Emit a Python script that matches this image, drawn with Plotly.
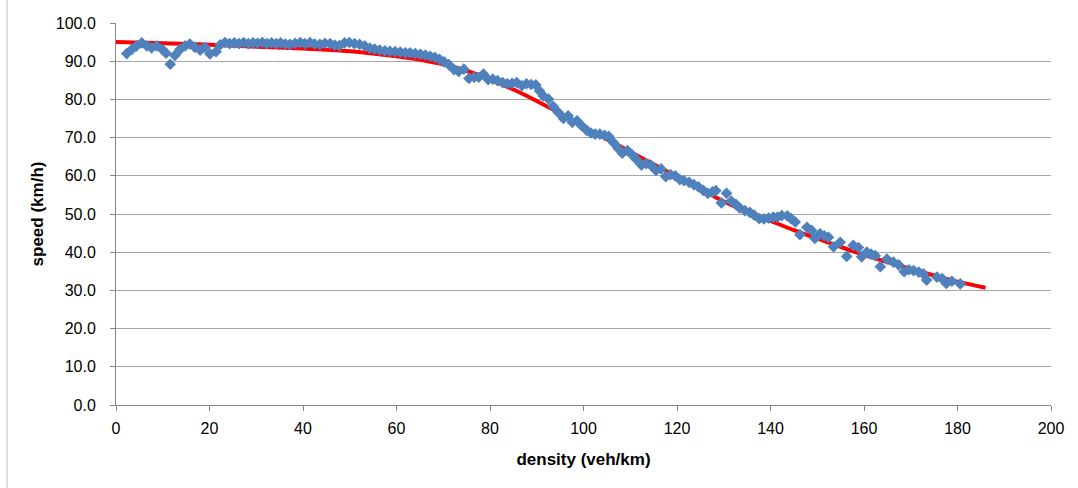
import plotly.graph_objects as go

density = [2.3, 3.4, 4.4, 5.5, 6.6, 7.6, 8.7, 9.8, 10.7, 11.6, 12.6, 13.7, 14.8, 15.8, 16.9, 18.0, 19.0, 20.1, 21.4, 22.3,
           23.3, 24.3, 25.3, 26.3, 27.3, 28.3, 29.3, 30.3, 31.3, 32.3, 33.3, 34.3, 35.2, 36.2, 37.2, 38.3, 39.4, 40.4, 41.5, 42.5,
           43.6, 44.7, 45.8, 46.8, 47.8, 48.9, 49.9, 51.0, 52.1, 53.2, 54.3, 55.3, 56.4, 57.5, 58.6, 59.7, 60.8, 61.9, 62.9, 64.0,
           65.1, 66.2, 67.2, 68.2, 69.2, 70.2, 71.2, 72.3, 73.3, 74.4, 75.5, 76.6, 77.6, 78.6, 79.6, 80.6, 81.6, 82.7, 83.7, 84.7,
           85.7, 86.8, 87.8, 88.8, 89.8, 90.6, 91.4, 92.5, 93.5, 94.6, 95.7, 96.7, 97.6, 98.6, 99.6, 100.7, 101.6, 102.5, 103.5, 104.5,
           105.4, 106.4, 107.4, 108.3, 109.4, 110.4, 111.3, 112.4, 113.4, 114.4, 115.5, 116.6, 117.6, 118.6, 119.6, 120.6, 121.5, 122.6, 123.6, 124.6,
           125.6, 126.6, 127.6, 128.3, 129.5, 130.6, 131.6, 132.6, 133.4, 134.5, 135.6, 136.5, 137.6, 138.6, 139.6, 140.6, 141.5, 142.4, 143.6, 144.4,
           145.3, 146.3, 147.8, 148.8, 149.5, 150.6, 151.5, 152.4, 153.5, 154.9, 156.3, 157.7, 158.8, 159.5, 160.6, 161.5, 162.4, 163.5, 164.9, 166.3,
           167.4, 168.6, 169.6, 170.6, 171.7, 172.7, 173.4, 175.6, 176.7, 177.6, 178.8, 180.6]
speed = [92.0, 93.1, 94.0, 94.8, 94.0, 93.5, 94.0, 93.2, 92.1, 89.2, 91.5, 93.1, 94.0, 94.5, 93.6, 92.9, 93.6, 91.9, 92.5, 94.3,
         94.9, 94.6, 94.8, 94.6, 94.9, 94.6, 94.8, 94.7, 94.9, 94.6, 94.8, 94.6, 94.8, 94.5, 94.4, 94.7, 94.9, 94.6, 94.9, 94.5,
         94.4, 94.7, 94.6, 94.2, 94.1, 94.8, 94.9, 94.6, 94.4, 94.0, 93.4, 93.2, 92.9, 92.7, 92.6, 92.5, 92.4, 92.2, 92.2, 92.0,
         91.8, 91.6, 91.3, 91.0, 90.5, 89.8, 89.1, 87.8, 87.3, 87.9, 85.5, 85.8, 85.8, 86.6, 85.2, 85.3, 84.9, 84.4, 84.1, 84.2,
         84.4, 83.6, 84.1, 83.9, 83.8, 82.2, 80.9, 80.1, 78.2, 76.6, 75.0, 75.7, 74.0, 74.4, 73.1, 71.9, 71.2, 70.9, 70.9, 70.6,
         70.3, 68.7, 67.2, 65.9, 66.6, 65.5, 64.3, 62.8, 63.2, 62.8, 61.4, 61.8, 59.8, 60.3, 60.0, 59.0, 58.7, 58.3, 57.7, 57.1,
         56.2, 55.4, 55.8, 56.1, 52.9, 55.4, 53.4, 52.5, 51.6, 50.9, 50.4, 49.7, 48.8, 48.7, 48.9, 49.2, 49.2, 49.6, 49.5, 48.8,
         47.9, 44.6, 46.5, 45.7, 43.6, 44.8, 44.3, 43.9, 41.4, 42.6, 38.9, 41.8, 41.2, 38.8, 40.0, 39.5, 39.1, 36.2, 38.2, 37.4,
         36.7, 34.9, 35.4, 35.2, 34.8, 34.3, 32.7, 33.5, 33.1, 31.8, 32.4, 31.7]

fit_density = [0, 10, 20, 30, 40, 50, 55, 60, 65, 70, 75, 80, 85, 90, 95, 100, 105, 110, 115, 120,
               125, 130, 135, 140, 145, 150, 155, 160, 165, 170, 175, 180, 186]
fit_speed = [95.0, 94.7, 94.3, 93.8, 93.3, 92.6, 92.0, 91.3, 90.4, 89.2, 87.5, 85.2, 82.6, 79.6, 76.3, 72.8, 69.6, 66.3, 63.0, 59.8,
             56.6, 53.3, 50.6, 48.2, 45.8, 43.6, 41.4, 39.3, 37.4, 35.6, 33.9, 32.3, 30.7]

x_ticks = [0, 20, 40, 60, 80, 100, 120, 140, 160, 180, 200]
y_ticks = [0, 10, 20, 30, 40, 50, 60, 70, 80, 90, 100]
y_tick_text = ["%.1f" % v for v in y_ticks]

fig = go.Figure()
fig.add_trace(go.Scatter(x=fit_density, y=fit_speed, mode="lines",
                         line=dict(color="#FF0000", width=4, shape="spline"), showlegend=False))
fig.add_trace(go.Scatter(x=density, y=speed, mode="markers",
                         marker=dict(symbol="diamond", size=9, color="#4F81BD", line=dict(width=0)),
                         showlegend=False))

font_family = "Liberation Sans, Arial, sans-serif"
fig.update_layout(
    width=1078, height=488,
    margin=dict(l=116, r=27, t=23, b=83),
    paper_bgcolor="white", plot_bgcolor="white",
    font=dict(family=font_family, size=16, color="#000000"),
    xaxis=dict(range=[0, 200], tickvals=x_ticks, ticks="outside", ticklen=5, tickcolor="#868686",
               showline=True, linecolor="#868686", linewidth=1, showgrid=False, zeroline=False,
               tickfont=dict(size=16), ticklabelstandoff=4,
               title=dict(text="<b>density (veh/km)</b>", font=dict(size=17), standoff=16)),
    yaxis=dict(range=[0, 100], tickvals=y_ticks, ticktext=y_tick_text, ticks="outside", ticklen=5,
               tickcolor="#868686", showline=True, linecolor="#868686", linewidth=1,
               showgrid=True, gridcolor="#A6A6A6", gridwidth=1, zeroline=False,
               tickfont=dict(size=16), ticklabelstandoff=11,
               title=dict(text="<b>speed (km/h)</b>", font=dict(size=17), standoff=7)),
    shapes=[dict(type="line", xref="paper", yref="paper",
                 x0=-0.1166, x1=-0.1166, y0=-0.3, y1=1.2,
                 line=dict(color="#BFBFBF", width=1), layer="below")],
)

fig.write_html("out.html", config={"displayModeBar": False},
               post_script="document.body.style.margin='0px';")
